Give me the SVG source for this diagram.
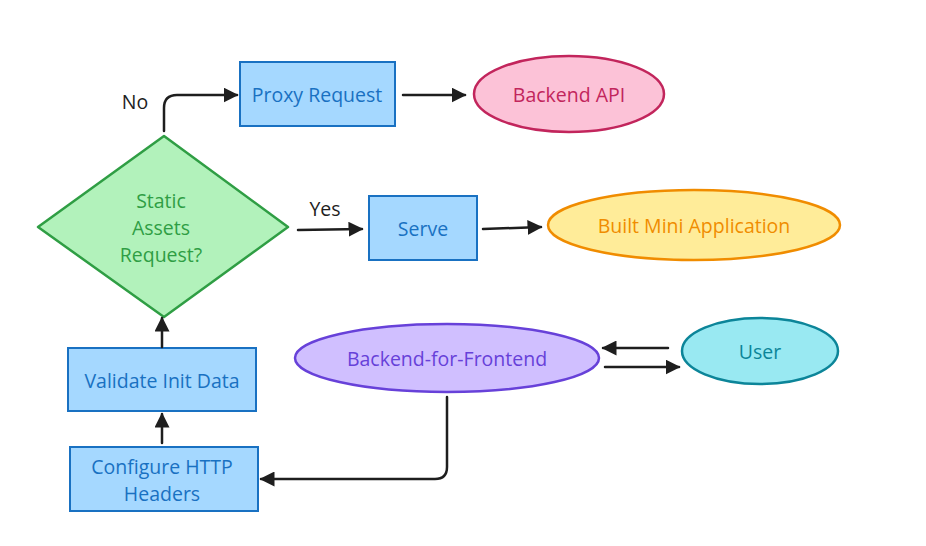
<svg xmlns="http://www.w3.org/2000/svg" width="926" height="546" viewBox="0 0 926 546">
<defs>
<marker id="ah" viewBox="0 0 10 10" refX="9" refY="5" markerWidth="6" markerHeight="6" orient="auto" markerUnits="strokeWidth">
<path d="M0,0 L10,5 L0,10 Z" fill="#1e1e1e"/>
</marker>
<style>
text{font-family:"Open Sans","Noto Sans",sans-serif;font-size:19.5px;text-anchor:middle;dominant-baseline:central}
.blue rect{fill:#a5d8ff;stroke:#1971c2;stroke-width:2}
.blue text{fill:#1971c2}
.conn path{fill:none;stroke:#1e1e1e;stroke-width:2.5;stroke-linecap:round;marker-end:url(#ah)}
.lbl{fill:#1e1e1e}
</style>
</defs>
<rect width="926" height="546" fill="#ffffff"/>
<g id="proxy" class="blue"><rect x="240" y="62" width="155" height="64"/><text x="317" y="94">Proxy Request</text></g>
<g id="backend-api"><ellipse cx="569" cy="94" rx="95" ry="38" fill="#fcc2d7" stroke="#c2255c" stroke-width="2.5"/><text x="569" y="94" fill="#c2255c">Backend API</text></g>
<g id="decision"><polygon points="164,136 288,227 164,317 38,227" fill="#b2f2bb" stroke="#2f9e44" stroke-width="2.5" stroke-linejoin="round"/>
<text x="161" y="200" fill="#2f9e44">Static</text><text x="161" y="227" fill="#2f9e44">Assets</text><text x="161" y="254" fill="#2f9e44">Request?</text></g>
<g id="serve" class="blue"><rect x="369" y="196" width="108" height="64"/><text x="423" y="228">Serve</text></g>
<g id="built"><ellipse cx="694" cy="225" rx="146" ry="35" fill="#ffec99" stroke="#f08c00" stroke-width="2.5"/><text x="694" y="225" fill="#f08c00">Built Mini Application</text></g>
<g id="validate" class="blue"><rect x="68" y="348" width="188" height="63"/><text x="162" y="380">Validate Init Data</text></g>
<g id="configure" class="blue"><rect x="70" y="447" width="188" height="64"/><text x="162" y="466">Configure HTTP</text><text x="162" y="493">Headers</text></g>
<g id="bff"><ellipse cx="447" cy="358" rx="152" ry="34" fill="#d0bfff" stroke="#6741d9" stroke-width="2.5"/><text x="447" y="358" fill="#6741d9">Backend-for-Frontend</text></g>
<g id="user"><ellipse cx="760" cy="351" rx="78" ry="33" fill="#99e9f2" stroke="#0c8599" stroke-width="2.5"/><text x="760" y="351" fill="#0c8599">User</text></g>
<g id="connectors" class="conn">
<path d="M164,131 L164,108 Q164,95 177,95 L237,95"/>
<path d="M403,95 L465,95"/>
<path d="M298,230 L362,229"/>
<path d="M483,229 L541,227"/>
<path d="M162,443 L162,414"/>
<path d="M162,347 L162,318"/>
<path d="M447,397 L447,467 Q447,479 435,479 L261,479"/>
<path d="M668,348 L603,348"/>
<path d="M605,367 L679,367"/>
</g>
<text class="lbl" x="135" y="101">No</text>
<text class="lbl" x="325" y="208">Yes</text>
</svg>
